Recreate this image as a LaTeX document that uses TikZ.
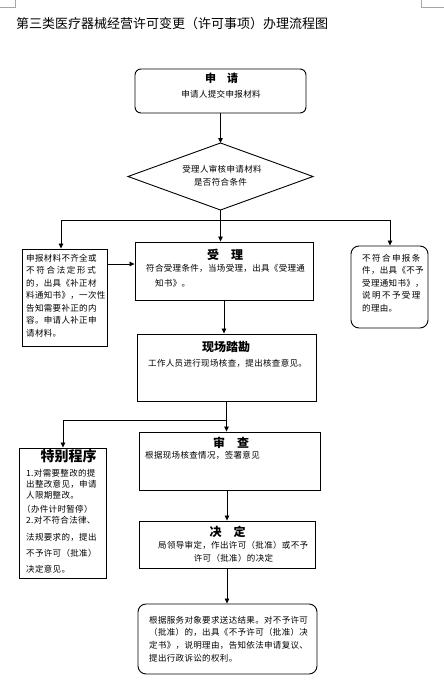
\documentclass[tikz,border=0pt]{standalone}
\usepackage{fontspec}
\setmainfont{Noto Sans CJK SC}
\newfontfamily\bodyf[LetterSpace=4]{Noto Sans CJK SC}
\usetikzlibrary{arrows.meta}
\tikzset{
  box/.style={draw, line width=0.9pt, inner sep=0pt},
  arr/.style={-{Triangle[length=5pt,width=4.5pt]}, line width=0.8pt},
  conn/.style={line width=0.8pt},
  txt/.style={inner sep=0pt, font=\bodyf\fontsize{8.5}{10}\selectfont},
  head/.style={inner sep=0pt, font=\bfseries\fontsize{12}{14}\selectfont},
  mark/.style={draw=black!35, line width=0.8pt}
}
\begin{document}
\begin{tikzpicture}[x=1pt, y=-1pt]
\useasboundingbox (0,0) rectangle (444,683);
% page corner marks
\draw[black!35, line width=0.8pt] (15,0) -- (15,7) -- (0,7);
\draw[black!35, line width=0.8pt] (421,0) -- (421,7) -- (444,7);
% title
\node[inner sep=0pt, anchor=west, font=\fontsize{13}{15}\selectfont] (title) at (16,24) {第三类医疗器械经营许可变更（许可事项）办理流程图};

% boxes
\node[box, rounded corners=6pt, minimum width=171pt, minimum height=44pt] (apply) at (220.5,91) {};
\coordinate (dtop) at (220.5,143);
\coordinate (dright) at (313,176.5);
\coordinate (dbot) at (220.5,210);
\coordinate (dleft) at (128,176.5);
\draw[line width=0.9pt] (dtop) -- (dright) -- (dbot) -- (dleft) -- cycle;
\node[box, minimum width=85pt, minimum height=97pt] (left) at (64.5,297.5) {};
\node[box, minimum width=178pt, minimum height=58pt] (accept) at (224,271) {};
\node[box, rounded corners=8pt, minimum width=77pt, minimum height=82pt] (right) at (389.5,287) {};
\node[box, minimum width=179pt, minimum height=67pt] (site) at (226.5,367.5) {};
\node[box, minimum width=87pt, minimum height=130pt] (special) at (62.5,513) {};
\node[box, minimum width=181pt, minimum height=58pt] (review) at (229.5,461) {};
\node[box, minimum width=176pt, minimum height=47pt] (decide) at (227,544.5) {};
\node[box, rounded corners=8pt, minimum width=179pt, minimum height=70pt] (final) at (227.5,639) {};

% headings
\node[head, font=\bfseries\fontsize{11}{13}\selectfont] (applyh) at (221.5,78) {申\hspace{1em}请};
\node[head] (accepth) at (225,255) {受\hspace{1em}理};
\node[head] (siteh) at (226,347) {现场踏勘};
\node[head, font=\bfseries\fontsize{14}{16}\selectfont] (specialh) at (68.5,456) {特别程序};
\node[head] (reviewh) at (231,443) {审\hspace{1em}查};
\node[head] (decideh) at (227.5,532) {决\hspace{1em}定};

% texts
\node[txt] (applyt) at (221,94) {申请人提交申报材料};
\node[txt] (dt1) at (222,169) {受理人审核申请材料};
\node[txt] (dt2) at (220.5,182) {是否符合条件};
\foreach \t [count=\i from 0] in {申报材料不齐全或,{\addfontfeature{LetterSpace=20}不符合法定形式},的，出具《补正材,料通知书》，一次性,告知需要补正的内,容。申请人补正申,请材料。}
  \node[txt, anchor=west] (lt\i) at (26,{258+12.5*\i}) {\t};
\node[txt, anchor=west] (at1) at (146,268) {符合受理条件，当场受理，出具《受理通};
\node[txt, anchor=west] (at2) at (155,283) {知书》。};
\foreach \t [count=\i from 0] in {{\addfontfeature{LetterSpace=17}不符合申报条},件，出具《不予,受理通知书》，,{\addfontfeature{LetterSpace=17}说明不予受理},的理由。}
  \node[txt, anchor=west] (rt\i) at (362,{258+12.5*\i}) {\t};
\node[txt, anchor=west] (st) at (148,363) {工作人员进行现场核查，提出核查意见。};
\node[txt, anchor=west] (sp1) at (26,473) {1.对需要整改的提};
\node[txt, anchor=west] (sp2) at (26,484) {出整改意见，申请};
\node[txt, anchor=west] (sp3) at (26,495.5) {人限期整改。};
\node[txt, anchor=west] (sp4) at (22,509) {（办件计时暂停）};
\node[txt, anchor=west] (sp5) at (26,520) {2.对不符合法律、};
\node[txt, anchor=west] (sp6) at (26,537) {法规要求的，提出};
\node[txt, anchor=west] (sp7) at (26,553) {不予许可（批准）};
\node[txt, anchor=west] (sp8) at (26,569) {决定意见。};
\node[txt, anchor=west] (rvt) at (145,455) {根据现场核查情况，签署意见};
\node[txt, anchor=west] (dct1) at (158,545) {局领导审定，作出许可（批准）或不予};
\node[txt] (dct2) at (233.5,558) {许可（批准）的决定};
\foreach \t [count=\i from 0] in {根据服务对象要求送达结果。对不予许可,（批准）的，出具《不予许可（批准）决,定书》，说明理由，告知依法申请复议、,提出行政诉讼的权利。}
  \node[txt, anchor=west] (ft\i) at (149,{620+12.7*\i}) {\t};

% connectors
\draw[arr] (apply.south) -- (dtop);
\coordinate (spL) at (61,220);
\coordinate (spR) at (390,220);
\draw[conn] (spL) -- (spR);
\draw[arr] (dbot) -- (dbot |- accept.north);
\draw[arr] (spL) -- (spL |- left.north);
\draw[arr] (spR) -- (spR |- right.north);
\coordinate (ar) at (0,264);
\draw[arr] (left.east |- ar) -- (accept.west |- ar);
\draw[arr] (accept.south) -- (accept.south |- site.north);
\draw[arr] (site.south) -- (site.south |- review.north);
\coordinate (br) at (226.5,420);
\coordinate (brL) at (63,420);
\draw[conn] (br) -- (brL);
\draw[arr] (brL) -- (brL |- special.north);
\draw[arr] (decide.north |- review.south) -- (decide.north);
\draw[arr] (decide.south) -- (decide.south |- final.north);
\end{tikzpicture}
\end{document}
